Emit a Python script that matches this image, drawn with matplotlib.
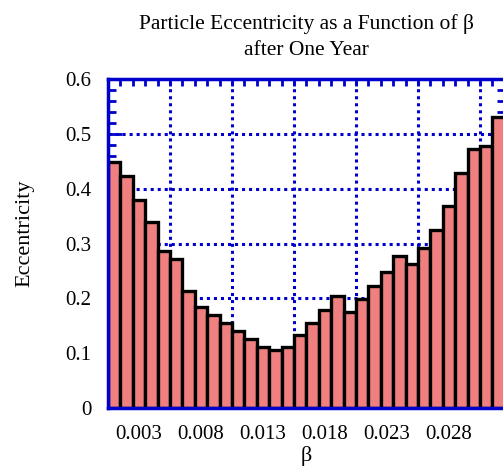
import matplotlib
matplotlib.use("Agg")
import matplotlib.pyplot as plt
from matplotlib.ticker import MultipleLocator, FixedLocator

plt.rcParams['font.family'] = ['Liberation Serif', 'DejaVu Serif']

# beta values (one bar per 0.001) and eccentricity
beta = [0.001, 0.002, 0.003, 0.004, 0.005, 0.006, 0.007, 0.008,
        0.009, 0.010, 0.011, 0.012, 0.013, 0.014, 0.015, 0.016,
        0.017, 0.018, 0.019, 0.020, 0.021, 0.022, 0.023, 0.024,
        0.025, 0.026, 0.027, 0.028, 0.029, 0.030, 0.031, 0.032]
ecc = [0.448, 0.424, 0.380, 0.340, 0.287, 0.272, 0.213, 0.184,
       0.169, 0.155, 0.140, 0.125, 0.111, 0.106, 0.111, 0.134,
       0.155, 0.178, 0.204, 0.175, 0.199, 0.223, 0.248, 0.277,
       0.263, 0.292, 0.325, 0.369, 0.428, 0.472, 0.477, 0.530]
xtick_vals = [0.003, 0.008, 0.013, 0.018, 0.023, 0.028]
xtick_labels = ['0.003', '0.008', '0.013', '0.018', '0.023', '0.028']
ytick_vals = [0, 0.1, 0.2, 0.3, 0.4, 0.5, 0.6]
ytick_labels = ['0', '0.1', '0.2', '0.3', '0.4', '0.5', '0.6']

blue = '#0000cc'

fig = plt.figure(figsize=(5.03, 4.72), dpi=100)
ax = fig.add_axes([0.2147, 0.1356, 0.789, 0.697])

# dotted grid (behind bars)
for y in ytick_vals[1:-1]:
    ax.axhline(y, color=blue, lw=2.2, ls=(0, (1, 1.3)), zorder=1)
for x in [0.0055, 0.0105, 0.0155, 0.0205, 0.0255, 0.0305]:
    ax.axvline(x, color=blue, lw=2.2, ls=(0, (1, 1.3)), zorder=1)

ax.bar(beta, ecc, width=0.001, color='#f08080', edgecolor='black',
       linewidth=2.4, zorder=2)

ax.set_xlim(0.0005, 0.0325)
ax.set_ylim(0, 0.6)

ax.set_xticks(xtick_vals)
ax.set_xticklabels(xtick_labels, fontsize=15)
ax.xaxis.set_minor_locator(FixedLocator([0.0015 + 0.001 * i for i in range(31)]))
ax.set_yticks(ytick_vals)
ax.set_yticklabels(ytick_labels, fontsize=15)
ax.yaxis.set_minor_locator(MultipleLocator(0.02))

ax.tick_params(axis='x', which='major', length=0, pad=12)
ax.tick_params(axis='x', which='minor', direction='in', length=5, width=2,
               color=blue, top=True, bottom=True)
ax.tick_params(axis='y', which='major', direction='in', length=10, width=2,
               color=blue, left=True, right=True, pad=12)
ax.tick_params(axis='y', which='minor', direction='in', length=6, width=2,
               color=blue, left=True, right=True)

for sp in ax.spines.values():
    sp.set_color(blue)
    sp.set_linewidth(2.5)
    sp.set_zorder(5)

ax.set_xlabel('β', fontsize=16, labelpad=2)
ax.set_ylabel('Eccentricity', fontsize=16)
ax.yaxis.set_label_coords(-0.185, 0.532)
ax.set_title('Particle Eccentricity as a Function of β\nafter One Year',
             fontsize=15.5, pad=17, linespacing=1.55)

fig.savefig('out.png', dpi=100)
